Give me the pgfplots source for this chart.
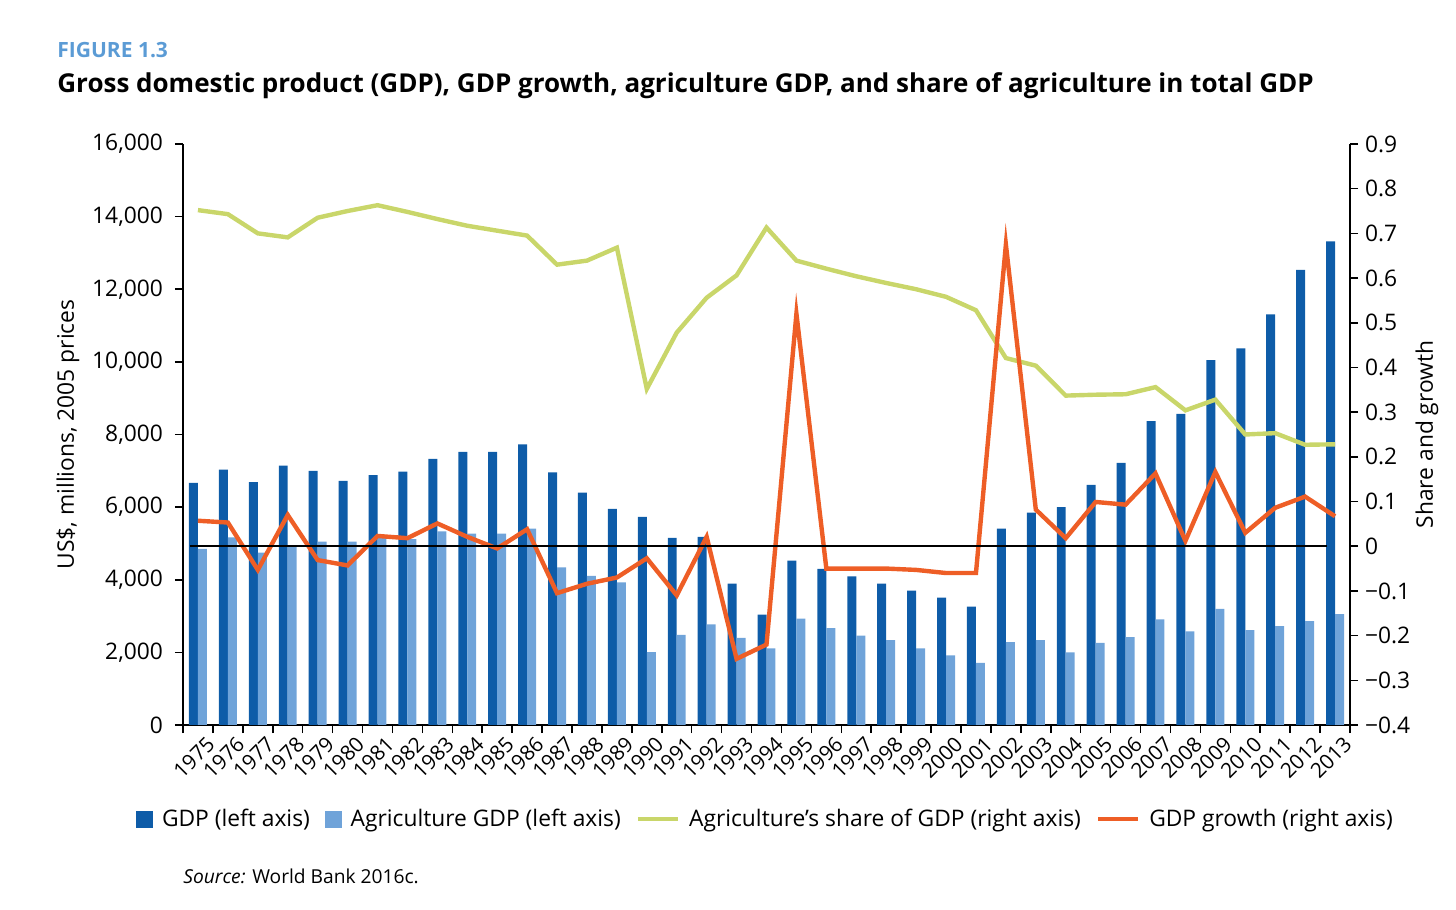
\documentclass[border=0pt]{standalone}
\usepackage{pgfplots}
\pgfplotsset{compat=1.18}
\usepackage{fontspec}
\setmainfont{Open Sans}
\definecolor{gdpdark}{HTML}{0E5CA8}
\definecolor{gdplight}{HTML}{6FA3D9}
\definecolor{sharegreen}{HTML}{C9D66A}
\definecolor{growthorange}{HTML}{EE5E26}
\definecolor{figblue}{HTML}{5B9BD5}

\pgfplotsset{
  linelegend/.style={legend image code/.code={\draw[##1] (0bp,0bp) -- (20bp,0bp);}},
  darklegend/.style={legend image code/.code={\fill[gdpdark] (0bp,-4bp) rectangle (8bp,4bp);}},
  lightlegend/.style={legend image code/.code={\fill[gdplight] (0bp,-4bp) rectangle (8bp,4bp);}},
}

\pgfplotstableread{
x gdp ag share growth
0  6670 4850 0.752 0.057
1  7030 5170 0.743 0.053
2  6690 4750 0.700 -0.053
3  7140 4950 0.691 0.070
4  7000 5050 0.735 -0.031
5  6720 5050 0.750 -0.043
6  6880 5200 0.763 0.023
7  6980 5120 0.748 0.018
8  7330 5330 0.732 0.051
9  7520 5270 0.717 0.021
10 7520 5270 0.706 -0.005
11 7730 5410 0.695 0.038
12 6960 4340 0.630 -0.105
13 6400 4110 0.639 -0.084
14 5950 3930 0.668 -0.070
15 5730 2010 0.352 -0.027
16 5150 2480 0.478 -0.110
17 5180 2770 0.556 0.021
18 3890 2400 0.606 -0.252
19 3040 2110 0.713 -0.220
20 4530 2930 0.639 0.520
21 4300 2670 0.621 -0.050
22 4090 2460 0.604 -0.050
23 3890 2340 0.589 -0.050
24 3700 2110 0.575 -0.053
25 3510 1920 0.558 -0.060
26 3260 1710 0.528 -0.060
27 5410 2280 0.421 0.675
28 5850 2340 0.404 0.082
29 6000 2000 0.337 0.018
30 6610 2260 0.339 0.099
31 7220 2420 0.340 0.093
32 8370 2910 0.356 0.163
33 8570 2580 0.304 0.012
34 10050 3200 0.328 0.166
35 10370 2610 0.250 0.030
36 11310 2720 0.253 0.086
37 12530 2860 0.227 0.111
38 13320 3050 0.228 0.067
}\datatable

\newcommand{\tk}{\fontsize{11.4bp}{13bp}\selectfont}
\newcommand{\xtk}{\fontsize{10.4bp}{12bp}\selectfont}

\begin{document}
\begin{tikzpicture}
\useasboundingbox (0bp,0bp) rectangle (728bp,455bp);

\node[anchor=base west, inner sep=0pt, font=\bfseries\fontsize{10.5bp}{12bp}\selectfont, text=figblue] at (28.5bp,426bp) {FIGURE 1.3};
\node[anchor=base west, inner sep=0pt, font=\bfseries\fontsize{13bp}{15bp}\selectfont] at (28.5bp,408.5bp) {Gross domestic product (GDP), GDP growth, agriculture GDP, and share of agriculture in total GDP};
\node[anchor=base west, inner sep=0pt, font=\fontsize{9.6bp}{11bp}\selectfont] at (91.5bp,13.5bp) {\textit{Source:} World Bank 2016c.};

\begin{axis}[
  at={(91.5bp,92.5bp)}, anchor=south west,
  scale only axis, width=583.5bp, height=290.5bp,
  xmin=-0.5, xmax=38.5, ymin=0, ymax=16000,
  axis y line*=left, axis x line*=bottom,
  axis line style={black, line width=0.8bp},
  tick align=outside,
  tick style={black, line width=0.8bp},
  major tick length=4bp, minor tick length=4bp,
  ytick={0,2000,...,16000},
  scaled y ticks=false,
  yticklabel style={/pgf/number format/1000 sep={,}, font=\tk, xshift=-2.5bp},
  /pgf/number format/assume math mode=true,
  xtick={0,...,38},
  xticklabels={1975,1976,1977,1978,1979,1980,1981,1982,1983,1984,1985,1986,1987,1988,1989,1990,1991,1992,1993,1994,1995,1996,1997,1998,1999,2000,2001,2002,2003,2004,2005,2006,2007,2008,2009,2010,2011,2012,2013},
  major x tick style={draw=none},
  minor xtick={-0.5,0.5,...,38.5},
  xticklabel style={rotate=45, anchor=east, font=\xtk, inner sep=1bp, xshift=2.9bp, yshift=-7.3bp},
  ylabel={US\$, millions, 2005 prices},
  every axis y label/.style={at={(axis description cs:-0.0985,0.5)}, rotate=90, anchor=center, font=\tk},
]
\addplot[ybar, bar width=0.3, bar shift=-0.15, fill=gdpdark, draw=none] table[x=x, y=gdp] {\datatable};
\addplot[ybar, bar width=0.3, bar shift=0.15, fill=gdplight, draw=none] table[x=x, y=ag] {\datatable};
\end{axis}

\begin{axis}[
  at={(91.5bp,92.5bp)}, anchor=south west,
  scale only axis, width=583.5bp, height=290.5bp,
  xmin=-0.5, xmax=38.5, ymin=-0.4, ymax=0.9,
  axis y line*=right, axis x line=none,
  axis line style={black, line width=0.8bp},
  tick align=outside,
  tick style={black, line width=0.8bp},
  major tick length=4bp,
  ytick={-0.4,-0.3,-0.2,-0.1,0,0.1,0.2,0.3,0.4,0.5,0.6,0.7,0.8,0.9},
  yticklabels={−0.4,−0.3,−0.2,−0.1,0,0.1,0.2,0.3,0.4,0.5,0.6,0.7,0.8,0.9},
  yticklabel style={font=\tk},
  ylabel={Share and growth},
  every axis y label/.style={at={(axis description cs:1.066,0.5)}, rotate=90, anchor=center, font=\tk},
  legend style={at={(axis description cs:0.5,-0.162)}, anchor=center, draw=none, fill=none,
    legend columns=4, font=\tk, inner sep=0pt,
    /tikz/every odd column/.append style={column sep=2.5bp},
    /tikz/every even column/.append style={column sep=5.5bp}},
]
\addlegendimage{darklegend}
\addlegendentry{GDP (left axis)}
\addlegendimage{lightlegend}
\addlegendentry{Agriculture GDP (left axis)}
\addplot[sharegreen, line width=2.2bp, linelegend] table[x=x, y=share] {\datatable};
\addlegendentry{Agriculture’s share of GDP (right axis)}
\addplot[growthorange, line width=2.2bp, linelegend] table[x=x, y=growth] {\datatable};
\addlegendentry{GDP growth (right axis)}
\addplot[black, line width=1.1bp, forget plot] coordinates {(-0.28,0) (37.72,0)};
\end{axis}
\end{tikzpicture}
\end{document}
